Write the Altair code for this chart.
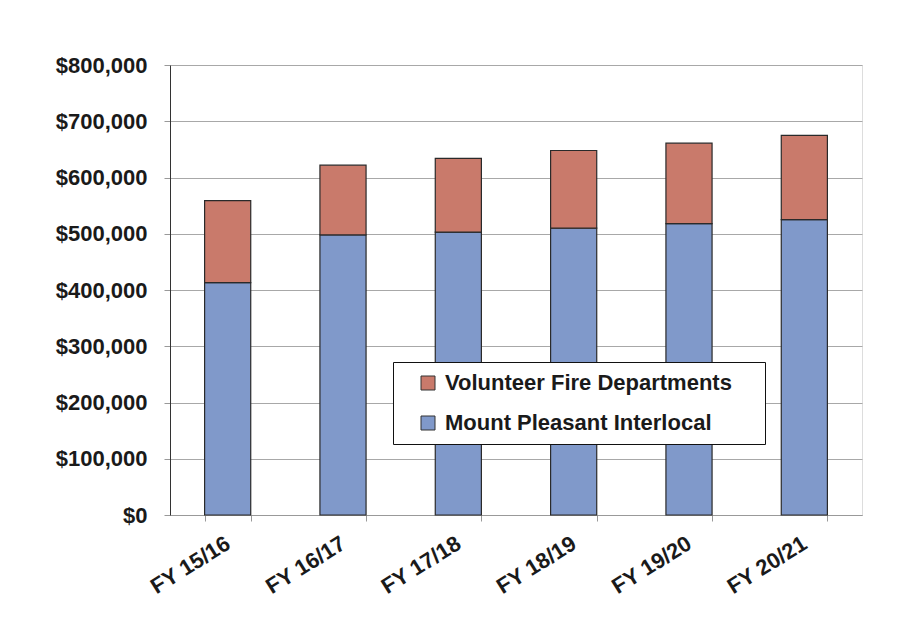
import altair as alt
import pandas as pd

years = ["FY 15/16", "FY 16/17", "FY 17/18", "FY 18/19", "FY 19/20", "FY 20/21"]
mount_pleasant = [413000, 498000, 503000, 510000, 518000, 525000]
totals = [559000, 622000, 634000, 648000, 661000, 675000]
volunteer = [t - m for t, m in zip(totals, mount_pleasant)]

series = ["Volunteer Fire Departments", "Mount Pleasant Interlocal"]
colors = ["#C97A6B", "#8099CA"]

rows = []
for i, y in enumerate(years):
    rows.append({"year": y, "series": "Mount Pleasant Interlocal", "value": mount_pleasant[i], "ord": 0})
    rows.append({"year": y, "series": "Volunteer Fire Departments", "value": volunteer[i], "ord": 1})
df = pd.DataFrame(rows)

FONT = "Liberation Sans"

chart = alt.Chart(df).mark_bar(stroke="#2a2a2a", strokeWidth=1.2).encode(
    x=alt.X("year:N", sort=years, title=None,
            scale=alt.Scale(paddingInner=0.6, paddingOuter=0.3),
            axis=alt.Axis(labelAngle=-32, labelAlign="right", labelBaseline="middle",
                          labelFont=FONT, labelFontSize=22, labelFontWeight="bold",
                          labelColor="#1a1a1a", labelPadding=20, tickBand="extent",
                          tickSize=6, tickColor="#999999", domainColor="#999999",
                          grid=False)),
    y=alt.Y("value:Q", title=None, stack="zero",
            scale=alt.Scale(domain=[0, 800000], nice=False),
            axis=alt.Axis(format="$,.0f", values=[0, 100000, 200000, 300000, 400000, 500000, 600000, 700000, 800000],
                          labelFont=FONT, labelFontSize=22, labelFontWeight="bold",
                          labelColor="#1a1a1a", labelPadding=17, tickSize=6,
                          tickColor="#999999", domainColor="#333333",
                          gridColor="#a8a8a8", gridWidth=1)),
    color=alt.Color("series:N", scale=alt.Scale(domain=series, range=colors),
                    legend=alt.Legend(title=".", titleOrient="right", titleColor="white",
                                      titleFontSize=2, titlePadding=22,
                                      orient="none", legendX=223, legendY=297,
                                      fillColor="white", strokeColor="#111111",
                                      padding=10, labelFont=FONT, labelFontSize=22,
                                      labelFontWeight="bold", labelColor="#1a1a1a",
                                      symbolType="square", symbolSize=196, symbolOffset=14,
                                      symbolStrokeColor="#333333", symbolStrokeWidth=1,
                                      rowPadding=18, labelOffset=6, labelLimit=500)),
    order=alt.Order("ord:Q"),
).properties(
    width=692, height=450,
    autosize=alt.AutoSizeParams(type="none"),
    padding={"left": 162, "top": 57, "right": 40, "bottom": 100},
).configure_view(stroke="#222222", strokeWidth=1).configure(background="white")

chart.save("out.html", embed_options={"renderer": "svg", "actions": False})
